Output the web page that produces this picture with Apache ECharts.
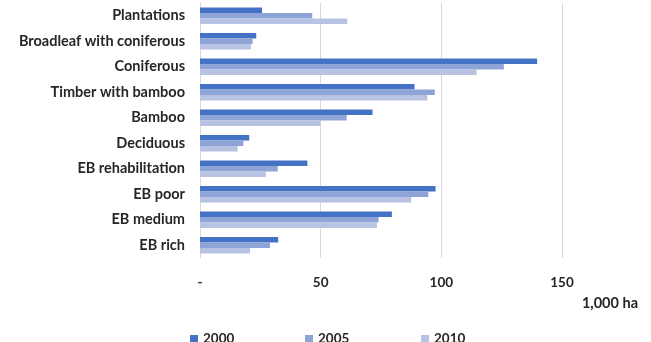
<!DOCTYPE html>
<html>
<head>
<meta charset="utf-8">
<script src="https://cdn.jsdelivr.net/npm/echarts@6/dist/echarts.min.js"></script>
<style>
  html, body { margin: 0; padding: 0; background: #fff; }
  #chart { width: 651px; height: 342px; }
</style>
</head>
<body>
<div id="chart"></div>
<script>
// forest types, top to bottom
var categories = ['Plantations', 'Broadleaf with coniferous', 'Coniferous', 'Timber with bamboo', 'Bamboo',
  'Deciduous', 'EB rehabilitation', 'EB poor', 'EB medium', 'EB rich']
var years = ['2000', '2005', '2010']
// area, 1,000 ha
var area2000 = [25.7, 23.3, 139.7, 88.9, 71.5, 20.4, 44.5, 97.6, 79.5, 32.4]
var area2005 = [46.5, 21.8, 125.9, 97.3, 60.8, 18.0, 32.2, 94.6, 74.0, 29.0]
var area2010 = [61.0, 21.1, 114.6, 94.2, 49.9, 15.6, 27.3, 87.5, 73.3, 20.7]
var xTicks = [0, 50, 100, 150]

var colors = ['#4472C4', '#8FA4D6', '#B8C3E4']
var font = 'Lato, "Open Sans", sans-serif'
var textColor = '#262626'

var chart = echarts.init(document.getElementById('chart'))

var values = [area2000, area2005, area2010]
var series = years.map(function (y, i) {
  return {
    name: y,
    type: 'bar',
    data: values[i],
    barGap: '0%',
    barCategoryGap: '35%',
    itemStyle: { color: colors[i] },
    emphasis: { disabled: true }
  }
})

// one legend block per year so they sit where the original puts them
var legendLeft = [185, 300, 416]
var legends = years.map(function (y, i) {
  return {
    data: [y],
    left: legendLeft[i],
    top: 327,
    itemWidth: 8,
    itemHeight: 8,
    itemGap: 0,
    icon: 'rect',
    textStyle: { fontFamily: font, fontWeight: 'bold', fontSize: 13.5, color: textColor }
  }
})

var option = {
  animation: false,
  backgroundColor: '#fff',
  color: colors,
  legend: legends,
  grid: {
    left: 200,
    right: 89,
    top: 3,
    bottom: 84,
    containLabel: false
  },
  xAxis: {
    type: 'value',
    min: 0,
    max: 150,
    interval: 50,
    axisLine: { show: false },
    axisTick: { show: false },
    splitLine: { show: true, lineStyle: { color: '#D9D9D9', width: 1 } },
    axisLabel: {
      margin: 18,
      fontFamily: font,
      fontWeight: 'bold',
      fontSize: 13.5,
      color: textColor,
      formatter: function (v) {
        if (xTicks.indexOf(v) < 0) return ''
        return v === 0 ? '-' : String(v)
      }
    }
  },
  yAxis: {
    type: 'category',
    data: categories,
    inverse: true,
    axisLine: { show: true, lineStyle: { color: '#D9D9D9' } },
    axisTick: { show: false },
    axisLabel: {
      margin: 15,
      fontFamily: font,
      fontWeight: 'bold',
      fontSize: 14.5,
      color: textColor
    }
  },
  graphic: [{
    type: 'text',
    right: 13,
    top: 296,
    style: {
      text: '1,000 ha',
      font: 'bold 14.5px ' + font,
      fill: textColor
    }
  }],
  series: series
}

chart.setOption(option)
</script>
</body>
</html>
